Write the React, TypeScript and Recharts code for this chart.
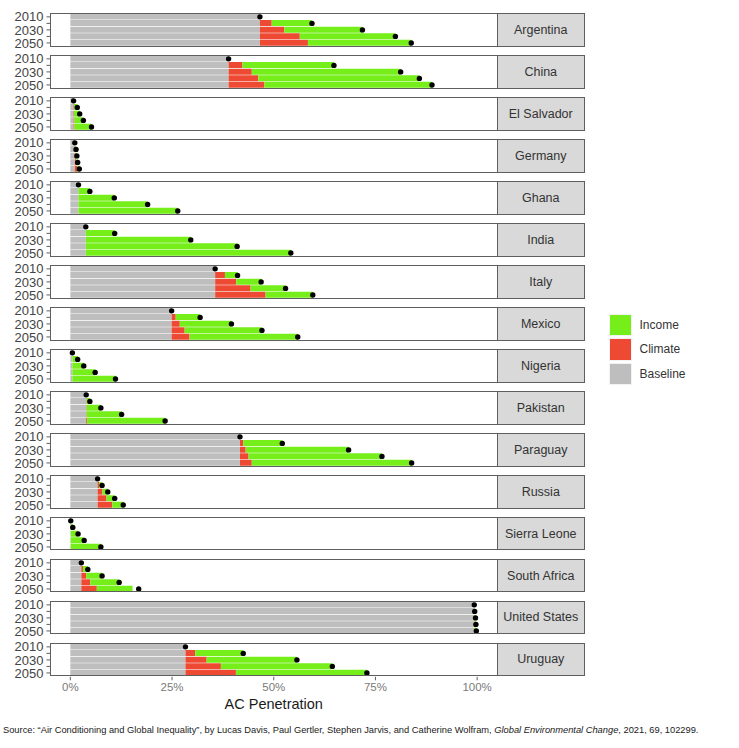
import React from "react";
import { ComposedChart, Bar, Line, XAxis, YAxis } from "recharts";

// AC penetration (%) by country, projected to 2050
const countries = [
  "Argentina", "China", "El Salvador", "Germany", "Ghana", "India", "Italy", "Mexico",
  "Nigeria", "Pakistan", "Paraguay", "Russia", "Sierra Leone", "South Africa",
  "United States", "Uruguay",
];
const years = ["2010", "2020", "2030", "2040", "2050"];
const yearLabels = ["2010", "2030", "2050"];
const xTicks = [0, 25, 50, 75, 100];

// 2010 level, held constant in every year
const baseline = [46.6, 38.9, 0.8, 1.1, 2.0, 3.8, 35.6, 24.9, 0.5, 3.9, 41.7, 6.7, 0.1, 2.7, 99.3, 28.3];

// increase from warming, per year
const climate = [
  [0, 2.9, 6.0, 9.8, 11.8],
  [0, 3.4, 5.7, 7.3, 8.8],
  [0, 0.1, 0.1, 0.2, 0.2],
  [0, 0.1, 0.2, 0.3, 0.6],
  [0, 0, 0, 0, 0],
  [0, 0, 0, 0, 0],
  [0, 2.4, 5.2, 8.7, 12.4],
  [0, 1.0, 2.0, 3.2, 4.4],
  [0, 0, 0, 0, 0],
  [0, 0.1, 0.1, 0.1, 0.2],
  [0, 0.8, 1.4, 2.1, 2.9],
  [0, 0.4, 1.2, 2.2, 3.6],
  [0, 0, 0, 0, 0],
  [0, 0.4, 1.2, 2.2, 3.8],
  [0, 0, 0, 0, 0],
  [0, 2.4, 5.2, 8.7, 12.4],
];

// increase from income growth, per year
const income = [
  [0, 9.9, 19.2, 23.5, 25.4],
  [0, 22.5, 36.6, 39.6, 41.2],
  [0, 0.8, 1.4, 2.2, 4.2],
  [0, 0.2, 0.3, 0.4, 0.5],
  [0, 2.8, 8.8, 17.0, 24.4],
  [0, 7.1, 25.8, 37.2, 50.4],
  [0, 3.1, 6.1, 8.6, 11.6],
  [0, 6.0, 12.7, 19.0, 26.6],
  [0, 1.3, 2.8, 5.6, 10.6],
  [0, 0.8, 3.5, 8.6, 19.2],
  [0, 9.6, 25.3, 32.8, 39.3],
  [0, 0.7, 1.3, 2.0, 2.7],
  [0, 0.5, 1.8, 3.3, 7.4],
  [0, 1.2, 3.9, 7.1, 8.8],
  [0, 0.1, 0.3, 0.4, 0.5],
  [0, 11.8, 22.2, 27.4, 32.2],
];

// projected total (black points)
const totals = [
  [46.6, 59.4, 71.8, 79.9, 83.8],
  [38.9, 64.8, 81.2, 85.8, 88.9],
  [0.8, 1.7, 2.3, 3.2, 5.2],
  [1.1, 1.4, 1.6, 1.8, 2.2],
  [2.0, 4.8, 10.8, 19.0, 26.4],
  [3.8, 10.9, 29.6, 41.0, 54.2],
  [35.6, 41.1, 46.9, 52.9, 59.6],
  [24.9, 31.9, 39.6, 47.1, 55.9],
  [0.5, 1.8, 3.3, 6.1, 11.1],
  [3.9, 4.8, 7.5, 12.6, 23.3],
  [41.7, 52.1, 68.4, 76.6, 83.9],
  [6.7, 7.8, 9.2, 10.9, 13.0],
  [0.1, 0.6, 1.9, 3.4, 7.5],
  [2.7, 4.3, 7.8, 12.0, 16.8],
  [99.3, 99.4, 99.6, 99.7, 99.8],
  [28.3, 42.5, 55.7, 64.4, 72.9],
];

const COLORS = { income: "#76EE1A", climate: "#EE4A33", baseline: "#BEBEBE" };
const legendItems = [
  { name: "Income", color: COLORS.income },
  { name: "Climate", color: COLORS.climate },
  { name: "Baseline", color: COLORS.baseline },
];

const FONT = "'Liberation Sans', Arial, sans-serif";
const PANEL_TOP = 13.3;
const PITCH = 41.95;
const PANEL_H = 33.8;
const PLOT_LEFT = 50;
const PLOT_RIGHT = 497.5;
const STRIP_RIGHT = 585;
const AXIS_H = 26;
const PAD = 8; // room above/below the panel so the year labels are not clipped
const BORDER = "#5f5f5f";

function Panel({ index }: { index: number }) {
  const last = index === countries.length - 1;
  const top = PANEL_TOP + PITCH * index;
  const rows = years.map((year, j) => ({
    year,
    baseline: baseline[index],
    climate: climate[index][j],
    income: income[index][j],
    total: totals[index][j],
  }));

  return (
    <>
      <div style={{ position: "absolute", left: 0, top: top - PAD }}>
        <ComposedChart
          layout="vertical"
          width={PLOT_RIGHT}
          height={PANEL_H + 2 * PAD + (last ? AXIS_H : 0)}
          data={rows}
          margin={{ top: PAD, right: 0, bottom: PAD, left: 0 }}
          barSize={6}
        >
          <XAxis
            type="number"
            domain={[-5, 105]}
            ticks={xTicks}
            allowDataOverflow
            hide={!last}
            height={AXIS_H}
            axisLine={false}
            tickSize={3.5}
            tickMargin={3}
            tickLine={{ stroke: BORDER }}
            tick={{ fontSize: 11.5, fill: "#7a7a7a", fontFamily: FONT }}
            tickFormatter={(v: number) => `${v}%`}
          />
          <YAxis
            type="category"
            dataKey="year"
            width={PLOT_LEFT}
            interval={0}
            padding={{ top: 0.6, bottom: 0.6 }}
            axisLine={false}
            tickSize={3.5}
            tickMargin={3}
            tickLine={{ stroke: BORDER }}
            tick={{ fontSize: 13, fill: "#444", fontFamily: FONT }}
            tickFormatter={(v: string) => (yearLabels.includes(v) ? v : "")}
          />
          <Bar dataKey="baseline" stackId="s" fill={COLORS.baseline} isAnimationActive={false} />
          <Bar dataKey="climate" stackId="s" fill={COLORS.climate} isAnimationActive={false} />
          <Bar dataKey="income" stackId="s" fill={COLORS.income} isAnimationActive={false} />
          <Line
            dataKey="total"
            stroke="none"
            dot={{ r: 2.7, fill: "#000", stroke: "none" }}
            activeDot={false}
            isAnimationActive={false}
          />
        </ComposedChart>
      </div>
      <div
        style={{
          position: "absolute",
          left: PLOT_LEFT,
          top,
          width: PLOT_RIGHT - PLOT_LEFT,
          height: PANEL_H,
          border: `1px solid ${BORDER}`,
          boxSizing: "border-box",
          pointerEvents: "none",
        }}
      />
      <div
        style={{
          position: "absolute",
          left: PLOT_RIGHT - 1,
          top,
          width: STRIP_RIGHT - PLOT_RIGHT + 1,
          height: PANEL_H,
          border: `1px solid ${BORDER}`,
          boxSizing: "border-box",
          background: "#d9d9d9",
          display: "flex",
          alignItems: "center",
          justifyContent: "center",
          fontSize: 12.5,
          color: "#333",
        }}
      >
        {countries[index]}
      </div>
    </>
  );
}

export default function App() {
  return (
    <div
      style={{
        position: "absolute",
        left: 0,
        top: 0,
        width: 739,
        height: 748,
        background: "#fff",
        fontFamily: FONT,
      }}
    >
      {countries.map((c, i) => (
        <Panel key={c} index={i} />
      ))}

      <div
        style={{
          position: "absolute",
          left: PLOT_LEFT,
          width: PLOT_RIGHT - PLOT_LEFT,
          top: 696,
          textAlign: "center",
          fontSize: 14.5,
          color: "#1a1a1a",
        }}
      >
        AC Penetration
      </div>

      <div style={{ position: "absolute", left: 609, top: 312.5 }}>
        {legendItems.map((item) => (
          <div key={item.name} style={{ display: "flex", alignItems: "center", height: 24.5 }}>
            <div
              style={{
                width: 22.5,
                height: 22.5,
                background: item.color,
                border: "0.5px solid #f2f2f2",
                boxSizing: "border-box",
              }}
            />
            <span style={{ marginLeft: 8, fontSize: 12, color: "#333" }}>{item.name}</span>
          </div>
        ))}
      </div>

      <div
        style={{
          position: "absolute",
          left: 3,
          top: 725,
          fontSize: 9.3,
          color: "#1a1a1a",
          whiteSpace: "nowrap",
        }}
      >
        Source: “Air Conditioning and Global Inequality”, by Lucas Davis, Paul Gertler, Stephen Jarvis, and
        Catherine Wolfram, <i>Global Environmental Change</i>, 2021, 69, 102299.
      </div>
    </div>
  );
}
